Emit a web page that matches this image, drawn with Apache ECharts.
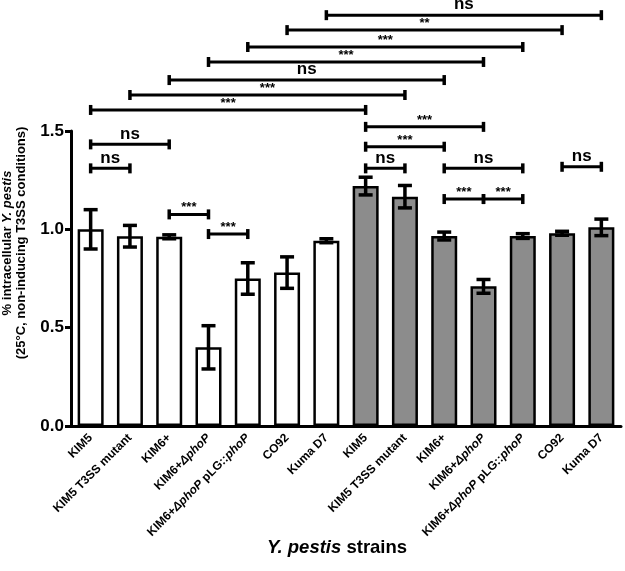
<!DOCTYPE html>
<html><head><meta charset="utf-8">
<script src="https://cdn.jsdelivr.net/npm/echarts/dist/echarts.min.js"></script>
<style>html,body{margin:0;padding:0;background:#fff}#c{width:625px;height:571px}</style>
</head><body><div id="c"></div>
<script>
// ---- data ----
const strains = ['KIM5', 'KIM5 T3SS mutant', 'KIM6+', 'KIM6+ΔphoP', 'KIM6+ΔphoP pLG::phoP', 'CO92', 'Kuma D7'];
const categories = strains.concat(strains);
const means  = [1.00, 0.965, 0.962, 0.40, 0.75, 0.78, 0.942, 1.22, 1.166, 0.966, 0.71, 0.966, 0.98, 1.01];
const errors = [0.10, 0.055, 0.010, 0.11, 0.08, 0.08, 0.010, 0.045, 0.057, 0.020, 0.035, 0.012, 0.010, 0.042];
const yTicks = [0.0, 0.5, 1.0, 1.5];
// significance brackets
const bracketStart = [6, 5, 4, 3, 2, 1, 0, 7, 0, 0, 2, 3, 7, 7, 9, 9, 10, 12];
const bracketEnd   = [13, 12, 11, 10, 9, 8, 7, 10, 2, 1, 3, 4, 9, 8, 11, 10, 11, 13];
const bracketLevel = [2.089, 2.013, 1.927, 1.851, 1.759, 1.683, 1.607, 1.521, 1.432, 1.310, 1.076, 0.976, 1.420, 1.310, 1.310, 1.154, 1.154, 1.318];
const bracketLabel = ['ns', '**', '***', '***', 'ns', '***', '***', '***', 'ns', 'ns', '***', '***', '***', 'ns', 'ns', '***', '***', 'ns'];

const FONT = 'Liberation Sans, Arial, sans-serif';
const GRAY = '#8c8c8c';

function richName(s) {
  return s.replace(/ΔphoP/g, '{i|ΔphoP}').replace(/::phoP/, '::{i|phoP}');
}

const chart = echarts.init(document.getElementById('c'), null, {renderer: 'canvas'});

const barData = means.map((v, i) => ({
  value: v,
  itemStyle: {color: i < strains.length ? '#ffffff' : GRAY}
}));
const errData = means.map((v, i) => [i, v, errors[i]]);
const brData = bracketStart.map((s, i) => [s, bracketEnd[i], bracketLevel[i]]);

chart.setOption({
  animation: false,
  backgroundColor: '#fff',
  grid: {left: 71, top: 131, width: 550, height: 295, containLabel: false},
  xAxis: {
    type: 'category',
    data: categories,
    axisLine: {lineStyle: {color: '#000', width: 3}},
    axisTick: {alignWithLabel: true, length: 4, lineStyle: {color: '#000', width: 3}},
    axisLabel: {
      rotate: 45, interval: 0, margin: 10,
      color: '#000', fontFamily: FONT, fontWeight: 'bold', fontSize: 12,
      formatter: v => richName(v),
      rich: {i: {fontStyle: 'italic', fontWeight: 'bold', fontFamily: FONT, fontSize: 12, color: '#000'}}
    }
  },
  yAxis: {
    type: 'value', min: yTicks[0], max: yTicks[yTicks.length - 1], interval: yTicks[1] - yTicks[0],
    splitLine: {show: false},
    axisLine: {show: true, lineStyle: {color: '#000', width: 3}},
    axisTick: {show: true, length: 6, lineStyle: {color: '#000', width: 3}},
    axisLabel: {color: '#000', fontFamily: FONT, fontWeight: 'bold', fontSize: 17, margin: 7,
      formatter: v => v.toFixed(1)}
  },
  series: [
    {
      type: 'bar', data: barData, barWidth: 26,
      itemStyle: {borderColor: '#000', borderWidth: 2.5},
      z: 2
    },
    {
      type: 'custom', data: errData, z: 3,
      encode: {x: 0, y: 1},
      renderItem(params, api) {
        const i = api.value(0), m = api.value(1), e = api.value(2);
        const top = api.coord([i, m + e]);
        const bot = api.coord([i, m - e]);
        const hw = 7;
        const st = {stroke: '#000', lineWidth: 3.5};
        return {type: 'group', children: [
          {type: 'line', shape: {x1: top[0], y1: top[1], x2: bot[0], y2: bot[1]}, style: st},
          {type: 'line', shape: {x1: top[0] - hw, y1: top[1], x2: top[0] + hw, y2: top[1]}, style: st},
          {type: 'line', shape: {x1: bot[0] - hw, y1: bot[1], x2: bot[0] + hw, y2: bot[1]}, style: st}
        ]};
      }
    },
    {
      type: 'custom', data: brData, z: 4, clip: false,
      dimensions: ['start', 'end', 'level'],
      encode: {x: [0, 1], y: 2},
      renderItem(params, api) {
        const a = api.coord([api.value(0), api.value(2)]);
        const b = api.coord([api.value(1), api.value(2)]);
        const lbl = bracketLabel[params.dataIndex];
        const ns = lbl === 'ns';
        const st = {stroke: '#000', lineWidth: 3};
        const cap = {stroke: '#000', lineWidth: 3.5};
        return {type: 'group', children: [
          {type: 'line', shape: {x1: a[0], y1: a[1], x2: b[0], y2: b[1]}, style: st},
          {type: 'line', shape: {x1: a[0], y1: a[1] - 5, x2: a[0], y2: a[1] + 5}, style: cap},
          {type: 'line', shape: {x1: b[0], y1: b[1] - 5, x2: b[0], y2: b[1] + 5}, style: cap},
          {type: 'text', style: {
            text: lbl, x: (a[0] + b[0]) / 2, y: a[1] - (ns ? 2 : 0),
            align: 'center', verticalAlign: 'bottom',
            fontFamily: FONT, fontWeight: 'bold', fontSize: ns ? 17 : 13, fill: '#000'
          }}
        ]};
      }
    }
  ],
  graphic: [
    {
      type: 'text', x: 14, y: 243, rotation: Math.PI / 2,
      style: {
        text: '% intracellular {i|Y. pestis}\n(25°C, non-inducing T3SS conditions)',
        align: 'center', verticalAlign: 'middle',
        fontFamily: FONT, fontWeight: 'bold', fontSize: 13, lineHeight: 14, fill: '#000',
        rich: {i: {fontStyle: 'italic', fontWeight: 'bold', fontFamily: FONT, fontSize: 13, lineHeight: 14, fill: '#000'}}
      }
    },
    {
      type: 'text', x: 337, y: 548,
      style: {
        text: '{i|Y. pestis} strains',
        align: 'center', verticalAlign: 'middle',
        fontFamily: FONT, fontWeight: 'bold', fontSize: 18.5, fill: '#000',
        rich: {i: {fontStyle: 'italic', fontWeight: 'bold', fontFamily: FONT, fontSize: 18.5, fill: '#000'}}
      }
    }
  ]
});
</script>
</body></html>
